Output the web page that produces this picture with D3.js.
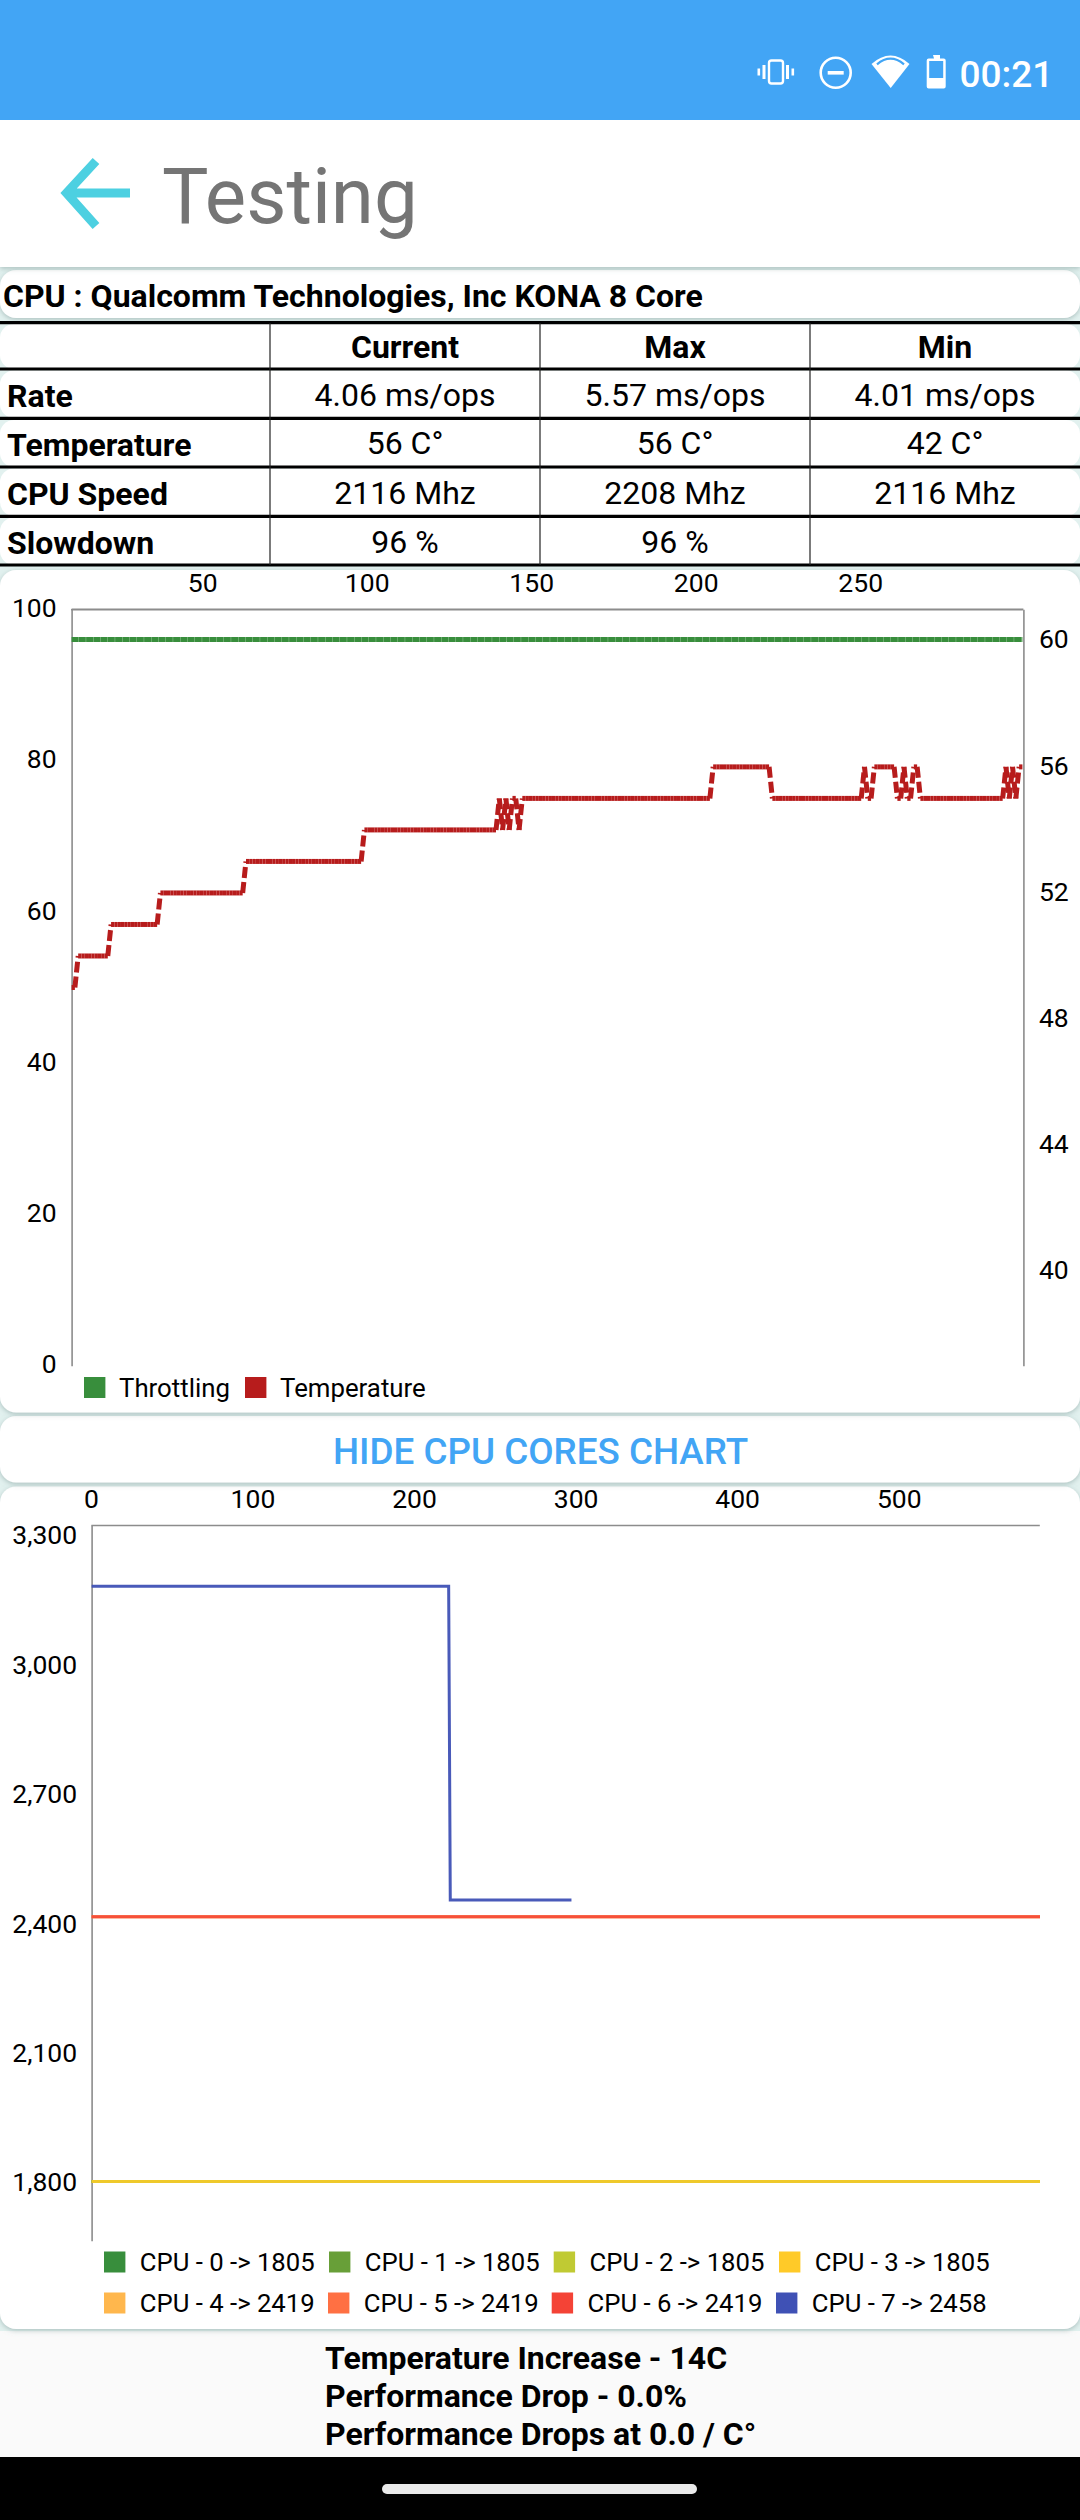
<!DOCTYPE html>
<html><head><meta charset="utf-8">
<script src="https://cdn.jsdelivr.net/npm/d3@7/dist/d3.min.js"></script>
<style>
html,body{margin:0;padding:0;background:#fff}
svg{display:block}
text{font-family:Roboto,sans-serif}
.tick line{display:none}
</style></head><body>
<svg id="page" width="1080" height="2520" viewBox="0 0 1080 2520"></svg>
<script>
// ---------- data ----------
const tableTitle = "CPU : Qualcomm Technologies, Inc KONA 8 Core";
const tableColumns = ["Current","Max","Min"];
const tableRows = ["Rate","Temperature","CPU Speed","Slowdown"];
const currentValues = ["4.06 ms/ops","56 C°","2116 Mhz","96 %"];
const maxValues = ["5.57 ms/ops","56 C°","2208 Mhz","96 %"];
const minValues = ["4.01 ms/ops","42 C°","2116 Mhz",""];

const sampleStart = 10;
const temperature = [
49,49,50,50,50,50,50,50,50,50,
50,50,51,51,51,51,51,51,51,51,
51,51,51,51,51,51,51,52,52,52,
52,52,52,52,52,52,52,52,52,52,
52,52,52,52,52,52,52,52,52,52,
52,52,52,53,53,53,53,53,53,53,
53,53,53,53,53,53,53,53,53,53,
53,53,53,53,53,53,53,53,53,53,
53,53,53,53,53,53,53,53,53,54,
54,54,54,54,54,54,54,54,54,54,
54,54,54,54,54,54,54,54,54,54,
54,54,54,54,54,54,54,54,54,54,
54,54,54,54,54,54,54,54,54,54,
55,54,55,54,55,55,54,55,55,55,
55,55,55,55,55,55,55,55,55,55,
55,55,55,55,55,55,55,55,55,55,
55,55,55,55,55,55,55,55,55,55,
55,55,55,55,55,55,55,55,55,55,
55,55,55,55,55,55,55,55,55,55,
55,55,55,55,55,56,56,56,56,56,
56,56,56,56,56,56,56,56,56,56,
56,56,56,55,55,55,55,55,55,55,
55,55,55,55,55,55,55,55,55,55,
55,55,55,55,55,55,55,55,55,55,
55,56,55,55,56,56,56,56,56,56,
56,55,55,56,55,55,56,56,55,55,
55,55,55,55,55,55,55,55,55,55,
55,55,55,55,55,55,55,55,55,55,
55,55,55,55,56,55,56,55,56,56];
const throttlingLevel = [96,96,96,96,96,96,96,96,96,96];
const throttlingSamples = [10,42,74,106,138,170,202,234,266,299];
const topTicks1 = [50,100,150,200,250];
const leftTicks1 = [0,20,40,60,80,100];
const rightTicks1 = [40,44,48,52,56,60];
const legend1 = ["Throttling","Temperature"];
const legend1Colors = ["#388e3c","#b71c1c"];

const cpuLabels = ["CPU - 0 -> 1805","CPU - 1 -> 1805","CPU - 2 -> 1805","CPU - 3 -> 1805","CPU - 4 -> 2419","CPU - 5 -> 2419","CPU - 6 -> 2419","CPU - 7 -> 2458"];
const cpuColors = ["#388e3c","#689f38","#c0ca33","#ffca28","#ffb74d","#ff7043","#f44336","#3f51b5"];
const flatSamples = [0,587];
const cpu0 = [1805,1805], cpu1 = [1805,1805], cpu2 = [1805,1805], cpu3 = [1805,1805];
const cpu4 = [2419,2419], cpu5 = [2419,2419], cpu6 = [2419,2419];
const cpu7Samples = [0,221,222,297];
const cpu7 = [3185,3185,2458,2458];
const topTicks2 = [0,100,200,300,400,500];
const leftTicks2 = [1800,2100,2400,2700,3000,3300];
const summaryLines = ["Temperature Increase - 14C","Performance Drop - 0.0%","Performance Drops at 0.0 / C°"];

// ---------- page ----------
const svg = d3.select("#page");
const defs = svg.append("defs");
const flt = defs.append("filter").attr("id","sh").attr("x","-5%").attr("y","-20%").attr("width","110%").attr("height","140%");
flt.append("feDropShadow").attr("dx",0).attr("dy",1.5).attr("stdDeviation",2.5).attr("flood-color","#6f8f8d").attr("flood-opacity",.5);

svg.append("rect").attr("width",1080).attr("height",2520).attr("fill","#e2f1ef");
// cards, last first so that shadows fall on the next card
function card(y0,y1,r=16){svg.append("rect").attr("x",0).attr("y",y0).attr("width",1080).attr("height",y1-y0).attr("rx",r).attr("fill","#fff").attr("filter","url(#sh)");}
svg.append("rect").attr("y",2331).attr("width",1080).attr("height",130).attr("fill","#fafafa");
card(1486.5,2329);
card(1416,1482.5);
card(570,1412.5);
[[517.5,565],[468.5,516],[420,467],[370.5,418]].forEach(d=>svg.append("rect").attr("y",d[0]).attr("width",1080).attr("height",d[1]-d[0]).attr("rx",14).attr("fill","#fff"));
svg.append("rect").attr("y",324).attr("width",1080).attr("height",45).attr("rx",14).attr("fill","#fff");
card(270,318);
svg.append("rect").attr("y",0).attr("width",1080).attr("height",267).attr("fill","#fff").attr("filter","url(#sh)");

// status bar
svg.append("rect").attr("width",1080).attr("height",120).attr("fill","#42a5f5");
const st = svg.append("g").attr("fill","#fff").attr("stroke","none");
st.append("rect").attr("x",769).attr("y",60.5).attr("width",14).attr("height",23).attr("rx",2.5).attr("fill","none").attr("stroke","#fff").attr("stroke-width",2.4);
[[762.5,65,3,14],[757.5,68.5,2.6,7],[786,65,3,14],[791.5,68.5,2.6,7]].forEach(d=>st.append("rect").attr("x",d[0]).attr("y",d[1]).attr("width",d[2]).attr("height",d[3]));
st.append("circle").attr("cx",835.7).attr("cy",72.7).attr("r",15).attr("fill","none").attr("stroke","#fff").attr("stroke-width",2.6);
st.append("rect").attr("x",827.7).attr("y",71).attr("width",16).attr("height",3.6);
st.append("path").attr("d","M871.5,64 Q890.5,47 909.5,64 L890.7,88 Z");
st.append("path").attr("d","M877,64.3 Q890.5,53 904,64.3").attr("fill","none").attr("stroke","#42a5f5").attr("stroke-width",2.2);
st.append("path").attr("d","M933,55 h7 v3.5 h3.7 a2,2 0 0 1 2,2 v26 a2,2 0 0 1 -2,2 h-15 a2,2 0 0 1 -2,-2 v-26 a2,2 0 0 1 2,-2 h5.3 Z");
st.append("rect").attr("x",929.2).attr("y",61).attr("width",14).attr("height",17).attr("fill","#42a5f5");
svg.append("text").attr("x",959.5).attr("y",86.5).attr("font-size",37).attr("font-weight",500).attr("fill","#fff").text("00:21");

// title bar
svg.append("path").attr("d","M96,161 L66.5,193 L96,226 M67,193 H130").attr("fill","none").attr("stroke","#4dd0e1").attr("stroke-width",9);
svg.append("text").attr("x",162).attr("y",223).attr("font-size",78).attr("fill","#757575").text("Testing");

// table
svg.append("text").attr("x",3).attr("y",306.5).attr("font-size",32).attr("font-weight",700).attr("fill","#000").text(tableTitle);
const rowLines = [322.7,369,418.3,467,516.3,565];
rowLines.forEach(y=>svg.append("line").attr("x1",0).attr("x2",1080).attr("y1",y).attr("y2",y).attr("stroke","#000").attr("stroke-width",3.2));
[270,540,810].forEach(x=>svg.append("line").attr("x1",x).attr("x2",x).attr("y1",323).attr("y2",565).attr("stroke","#222").attr("stroke-width",1.2));
const colX = [405,675,945];
const headerBase = 358, labelBase=[406.5,455.5,505,554], valBase=[405.5,454,503.5,552.5];
tableColumns.forEach((c,i)=>svg.append("text").attr("x",colX[i]).attr("y",headerBase).attr("text-anchor","middle").attr("font-size",32).attr("font-weight",700).text(c));
tableRows.forEach((r,j)=>{
  svg.append("text").attr("x",7).attr("y",labelBase[j]).attr("font-size",32).attr("font-weight",700).text(r);
  [currentValues,maxValues,minValues].forEach((col,i)=>svg.append("text").attr("x",colX[i]).attr("y",valBase[j]).attr("text-anchor","middle").attr("font-size",32).text(col[j]));
});

// ---------- chart 1 ----------
const L1=71.6,R1=1023.4,T1=609.3,B1=1365.7;
const x1=d3.scaleLinear().domain([10,299.3]).range([L1,R1]);
const yL1=d3.scaleLinear().domain([0,100]).range([B1,T1]);
const yR1=d3.scaleLinear().domain([37,61]).range([B1,T1]);
function styleAxis(g){
  g.selectAll(".domain").attr("stroke","#8c8c8c").attr("stroke-width",1.6);
  g.selectAll("text").attr("font-size",26.5).attr("font-family","Roboto,sans-serif").attr("fill","#000");
}
function sideAxis(g){ styleAxis(g); g.selectAll("text").attr("dy","0.27em"); }
svg.append("g").attr("transform",`translate(-1,${T1})`).call(d3.axisTop(x1).tickValues(topTicks1).tickSize(0).tickPadding(17).tickSizeOuter(0)).call(styleAxis);
svg.append("g").attr("transform",`translate(${L1},0)`).call(d3.axisLeft(yL1).tickValues(leftTicks1).tickSize(0).tickPadding(15).tickSizeOuter(0)).call(sideAxis);
svg.append("g").attr("transform",`translate(${R1},0)`).call(d3.axisRight(yR1).tickValues(rightTicks1).tickSize(0).tickPadding(15.5).tickSizeOuter(0)).call(sideAxis);
svg.append("line").attr("x1",L1).attr("x2",R1).attr("y1",T1).attr("y2",T1).attr("stroke","#8c8c8c").attr("stroke-width",1.6);

const segLine1=d3.line().x(d=>x1(d.x)).y(d=>d.y);
const tempPts=temperature.map((v,i)=>({x:sampleStart+i,y:yR1(v)}));
svg.append("g").selectAll("path").data(d3.pairs(tempPts)).join("path")
  .attr("d",d=>segLine1(d)).attr("fill","none").attr("stroke",legend1Colors[1]).attr("stroke-width",5).attr("stroke-dasharray","11 4");
const thrPts=throttlingSamples.map((s,i)=>({x:s,y:yL1(throttlingLevel[i])}));
svg.append("path").attr("d",segLine1(thrPts)).attr("fill","none").attr("stroke",legend1Colors[0]).attr("stroke-width",5).attr("stroke-dasharray","7 0.25");

const leg1Sq=[84,245], leg1Tx=[119,280];
legend1.forEach((t,i)=>{
  svg.append("rect").attr("x",leg1Sq[i]).attr("y",1377).attr("width",21.4).attr("height",21).attr("fill",legend1Colors[i]);
  svg.append("text").attr("x",leg1Tx[i]).attr("y",1396.5).attr("font-size",25.8).text(t);
});

// button
svg.append("text").attr("x",540.5).attr("y",1464).attr("text-anchor","middle").attr("font-size",36.8).attr("font-weight",500).attr("fill","#42a5f5").text("HIDE CPU CORES CHART");

// ---------- chart 2 ----------
const L2=91.6,R2=1040,T2=1525,B2=2240.7;
const x2=d3.scaleLinear().domain([0,587]).range([L2,R2]);
const y2=d3.scaleLinear().domain([1668,3327]).range([B2,T2]);
svg.append("g").attr("transform",`translate(-0.7,${T2})`).call(d3.axisTop(x2).tickValues(topTicks2).tickSize(0).tickPadding(17).tickSizeOuter(0)).call(styleAxis);
svg.append("g").attr("transform",`translate(${L2},0)`).call(d3.axisLeft(y2).tickValues(leftTicks2).tickFormat(d3.format(",")).tickSize(0).tickPadding(14.5).tickSizeOuter(0)).call(sideAxis);
const line2=d3.line().x(d=>x2(d[0])).y(d=>y2(d[1]));
const cpuSeries=[[flatSamples,cpu0],[flatSamples,cpu1],[flatSamples,cpu2],[flatSamples,cpu3],[flatSamples,cpu4],[flatSamples,cpu5],[flatSamples,cpu6],[cpu7Samples,cpu7]];
cpuSeries.forEach((s,i)=>{
  svg.append("path").attr("d",line2(d3.zip(s[0],s[1]))).attr("fill","none").attr("stroke",cpuColors[i]).attr("stroke-width",3).attr("stroke-opacity",i<7?.8:.95);
});
const legSqX=[104,329,553.7,779,104,328,551.7,776];
cpuLabels.forEach((t,i)=>{
  const yc=i<4?2262:2303;
  svg.append("rect").attr("x",legSqX[i]).attr("y",yc-10.5).attr("width",21.4).attr("height",21).attr("fill",cpuColors[i]);
  svg.append("text").attr("x",legSqX[i]+35.8).attr("y",yc+9).attr("font-size",25.7).text(t);
});

// summary + nav
summaryLines.forEach((t,i)=>svg.append("text").attr("x",325).attr("y",2369+i*38).attr("font-size",32).attr("font-weight",700).text(t));
svg.append("rect").attr("y",2457).attr("width",1080).attr("height",63).attr("fill","#000");
svg.append("rect").attr("x",382).attr("y",2484).attr("width",315).attr("height",10).attr("rx",5).attr("fill","#eaeaea");
</script>
</body></html>
